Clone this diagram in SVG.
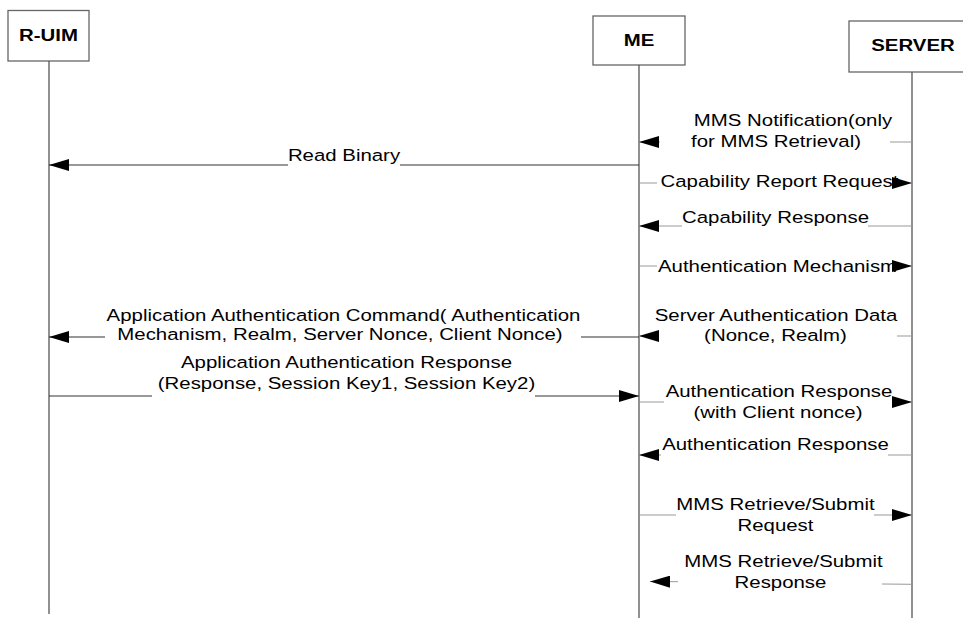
<svg xmlns="http://www.w3.org/2000/svg" width="963" height="618" viewBox="0 0 963 618">
<style>
.box{fill:#fff;stroke:#666;stroke-width:1.3}
.life{stroke:#555;stroke-width:1.3;fill:none}
.hd{font-family:"Liberation Sans",Arial,sans-serif;font-size:17px;font-weight:bold;fill:#000;text-anchor:middle}
.t{font-family:"Liberation Sans",Arial,sans-serif;font-size:17px;fill:#000;text-anchor:middle}
.c{stroke:#333;stroke-width:1.2;fill:none}
.cl{stroke:#999;stroke-width:1;fill:none}
</style>
<defs>
<marker id="ah" markerUnits="userSpaceOnUse" markerWidth="20" markerHeight="12" refX="20" refY="6" orient="auto">
<path d="M0,0 L20,6 L0,12 z" fill="#000"/>
</marker>
</defs>
<rect width="963" height="618" fill="#fff"/>

<g id="node-ruim">
<rect class="box" x="8" y="10.5" width="81" height="50.5"/>
<line class="life" x1="49" y1="61" x2="49" y2="614"/>
<text class="hd" transform="translate(48.5,41) scale(1.2,1)">R-UIM</text>
</g>
<g id="node-me">
<rect class="box" x="593" y="16" width="92" height="49"/>
<line class="life" x1="639" y1="65" x2="639" y2="618"/>
<text class="hd" transform="translate(639,46) scale(1.2,1)">ME</text>
</g>
<g id="node-server">
<rect class="box" x="849" y="21" width="120" height="51"/>
<line class="life" x1="912" y1="72" x2="912" y2="618"/>
<text class="hd" transform="translate(913,51) scale(1.2,1)">SERVER</text>
</g>

<g id="connectors">
<g id="m1">
<path class="cl" d="M912,142 H890 M660,142 H639" marker-end="url(#ah)"/>
<text class="t" transform="translate(793,126) scale(1.2,1)">MMS Notification(only</text>
<text class="t" transform="translate(776,146.5) scale(1.2,1)">for MMS Retrieval)</text>
</g>
<g id="m2">
<path class="c" d="M639,165 H400 M288,165 H49" marker-end="url(#ah)"/>
<text class="t" transform="translate(344,161) scale(1.2,1)">Read Binary</text>
</g>
<g id="m3">
<path class="cl" d="M639,183 H657 M900,183 H912" marker-end="url(#ah)"/>
<text class="t" transform="translate(779.5,187) scale(1.2,1)">Capability Report Request</text>
</g>
<g id="m4">
<path class="cl" d="M912,226 H868 M682,226 H639" marker-end="url(#ah)"/>
<text class="t" transform="translate(775.5,222.5) scale(1.2,1)">Capability Response</text>
</g>
<g id="m5">
<path class="cl" d="M639,266 H657 M897,266 H912" marker-end="url(#ah)"/>
<text class="t" transform="translate(777.5,271.5) scale(1.2,1)">Authentication Mechanism</text>
</g>
<g id="m6">
<path class="cl" d="M912,336 H897 M653,336 H639" marker-end="url(#ah)"/>
<text class="t" transform="translate(776,320.5) scale(1.2,1)">Server Authentication Data</text>
<text class="t" transform="translate(775.5,341) scale(1.2,1)">(Nonce, Realm)</text>
</g>
<g id="m7">
<path class="c" d="M639,337 H581 M105,337 H49" marker-end="url(#ah)"/>
<text class="t" transform="translate(343.5,320.5) scale(1.2,1)">Application Authentication Command( Authentication</text>
<text class="t" transform="translate(340,339.5) scale(1.2,1)">Mechanism, Realm, Server Nonce, Client Nonce)</text>
</g>
<g id="m8">
<path class="c" d="M49,396 H152 M535,396 H639" marker-end="url(#ah)"/>
<text class="t" transform="translate(346.5,368) scale(1.2,1)">Application Authentication Response</text>
<text class="t" transform="translate(346.5,389) scale(1.2,1)">(Response, Session Key1, Session Key2)</text>
</g>
<g id="m9">
<path class="cl" d="M639,402 H664 M892,402 H912" marker-end="url(#ah)"/>
<text class="t" transform="translate(779,397) scale(1.2,1)">Authentication Response</text>
<text class="t" transform="translate(778,418) scale(1.2,1)">(with Client nonce)</text>
</g>
<g id="m10">
<path class="cl" d="M912,455 H888 M661,455 H639" marker-end="url(#ah)"/>
<text class="t" transform="translate(775.5,450) scale(1.2,1)">Authentication Response</text>
</g>
<g id="m11">
<path class="cl" d="M639,515 H676 M874,515 H912" marker-end="url(#ah)"/>
<text class="t" transform="translate(775.5,510) scale(1.2,1)">MMS Retrieve/Submit</text>
<text class="t" transform="translate(775.5,530.5) scale(1.2,1)">Request</text>
</g>
<g id="m12">
<path class="cl" d="M912,584.3 L882,584 M678,581.7 L650,581.5" marker-end="url(#ah)"/>
<text class="t" transform="translate(783.5,566.5) scale(1.2,1)">MMS Retrieve/Submit</text>
<text class="t" transform="translate(780.5,588) scale(1.2,1)">Response</text>
</g>
</g>
</svg>
